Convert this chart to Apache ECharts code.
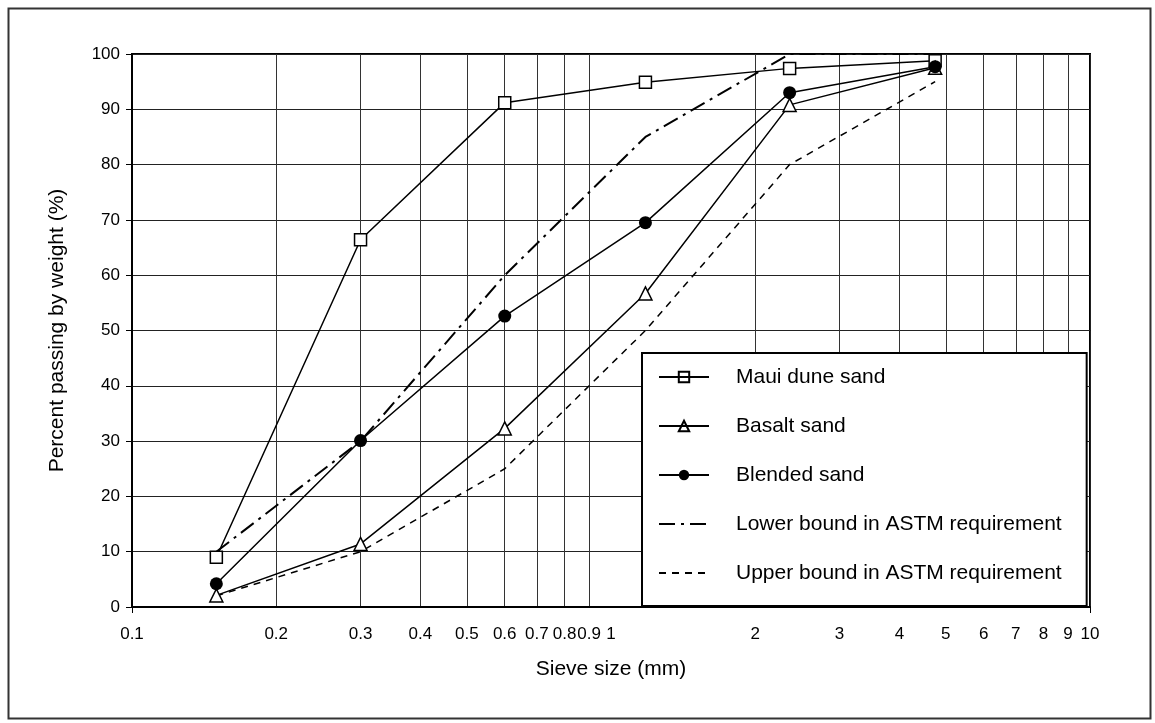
<!DOCTYPE html>
<html>
<head>
<meta charset="utf-8">
<script src="https://cdn.jsdelivr.net/npm/echarts@6/dist/echarts.min.js"></script>
<style>
html,body{margin:0;padding:0;background:#fff;}
#chart{width:1155px;height:723px;}
</style>
</head>
<body>
<div id="chart"></div>
<script>
// ---- data ----
var sieveSizes = [0.15, 0.3, 0.6, 1.18, 2.36, 4.75];
var mauiDune   = [9.0, 66.4, 91.2, 94.9, 97.4, 98.8];
var basalt     = [2.1, 11.4, 32.3, 56.7, 90.8, 97.5];
var blended    = [4.2, 30.1, 52.6, 69.5, 93.0, 97.7];
var lowerBound = [10, 30, 60, 85, 100, 100];
var upperBound = [2, 10, 25, 50, 80, 95];
var seriesNames = ['Maui dune sand', 'Basalt sand', 'Blended sand',
                   'Lower bound in ASTM requirement', 'Upper bound in ASTM requirement'];
var xTickValues = [0.1, 0.2, 0.3, 0.4, 0.5, 0.6, 0.7, 0.8, 0.9, 1, 2, 3, 4, 5, 6, 7, 8, 9, 10];
var xTickLabels = ['0.1','0.2','0.3','0.4','0.5','0.6','0.7','0.8','0.9','1','2','3','4','5','6','7','8','9','10'];
var yTicks = [0, 10, 20, 30, 40, 50, 60, 70, 80, 90, 100];

function pairs(ys) {
  return sieveSizes.map(function (x, i) { return [x, ys[i]]; });
}

var FONT = '"Liberation Sans", Arial, sans-serif';
var chart = echarts.init(document.getElementById('chart'), null, {renderer: 'canvas'});

var option = {
  backgroundColor: '#fff',
  animation: false,
  textStyle: {fontFamily: FONT, color: '#000'},
  graphic: [{
    type: 'rect', left: 6, top: 6, z: -10,
    shape: {width: 1142, height: 710},
    style: {fill: 'none', stroke: '#333', lineWidth: 2}
  }],
  grid: {
    left: 132, right: 65, top: 54, bottom: 116,
    show: true, borderColor: '#000', borderWidth: 2, backgroundColor: 'transparent'
  },
  legend: {
    orient: 'vertical',
    left: 642, top: 353,
    data: [
      {name: seriesNames[0], itemStyle: {color: 'rgba(255,255,255,0)'}},
      {name: seriesNames[1], itemStyle: {color: 'rgba(255,255,255,0)'}},
      {name: seriesNames[2]},
      {name: seriesNames[3], itemStyle: {opacity: 0}},
      {name: seriesNames[4], itemStyle: {opacity: 0}}
    ],
    backgroundColor: '#fff',
    borderColor: '#000',
    borderWidth: 2,
    borderRadius: 0,
    padding: [12, 25, 21, 16],
    itemWidth: 50,
    itemHeight: 13,
    itemGap: 25,
    textStyle: {fontFamily: FONT, fontSize: 21, color: '#000', lineHeight: 24, padding: [0, 0, 0, 22]},
    z: 10
  },
  xAxis: {
    type: 'log',
    logBase: 10,
    min: 0.1,
    max: 10,
    name: 'Sieve size (mm)',
    nameLocation: 'middle',
    nameGap: 52,
    nameTextStyle: {fontFamily: FONT, fontSize: 21, color: '#000'},
    axisLine: {show: true, onZero: false, lineStyle: {color: '#000', width: 2}},
    axisTick: {show: true, inside: false, length: 6, lineStyle: {color: '#000', width: 1}, customValues: [0.1, 10]},
    axisLabel: {
      show: true, margin: 19, fontFamily: FONT, fontSize: 17, color: '#000',
      customValues: xTickValues,
      hideOverlap: false,
      formatter: function (v) {
        for (var i = 0; i < xTickValues.length; i++) {
          if (Math.abs(xTickValues[i] - v) < 1e-9) return xTickLabels[i];
        }
        return '';
      }
    },
    splitLine: {show: true, lineStyle: {color: '#222', width: 1}},
    minorTick: {show: false, splitNumber: 9},
    minorSplitLine: {show: true, lineStyle: {color: '#333', width: 1}}
  },
  yAxis: {
    type: 'value',
    min: 0, max: 100, interval: 10,
    name: 'Percent passing by weight (%)',
    nameLocation: 'middle',
    nameGap: 64,
    nameRotate: 90,
    nameTextStyle: {fontFamily: FONT, fontSize: 21, color: '#000'},
    axisLine: {show: true, lineStyle: {color: '#000', width: 2}},
    axisTick: {show: true, inside: false, length: 6, lineStyle: {color: '#000', width: 1}},
    axisLabel: {margin: 12, fontFamily: FONT, fontSize: 17, color: '#000',
      formatter: function (v) { return yTicks.indexOf(v) >= 0 ? String(v) : ''; }},
    splitLine: {show: true, lineStyle: {color: '#222', width: 1}}
  },
  series: [
    {
      name: seriesNames[0], type: 'line', data: pairs(mauiDune),
      symbol: 'rect', symbolSize: 12,
      lineStyle: {color: '#000', width: 1.5},
      itemStyle: {color: '#fff', borderColor: '#000', borderWidth: 1.5},
      z: 3
    },
    {
      name: seriesNames[1], type: 'line', data: pairs(basalt),
      symbol: 'triangle', symbolSize: 13,
      lineStyle: {color: '#000', width: 1.5},
      itemStyle: {color: '#fff', borderColor: '#000', borderWidth: 1.5},
      z: 3
    },
    {
      name: seriesNames[2], type: 'line', data: pairs(blended),
      symbol: 'circle', symbolSize: 13,
      lineStyle: {color: '#000', width: 1.5},
      itemStyle: {color: '#000', borderColor: '#000', borderWidth: 0},
      z: 4
    },
    {
      name: seriesNames[3], type: 'line', data: pairs(lowerBound),
      symbol: 'none',
      lineStyle: {color: '#000', width: 2, type: [16, 6, 3, 6]},
      itemStyle: {color: '#000'},
      z: 2
    },
    {
      name: seriesNames[4], type: 'line', data: pairs(upperBound),
      symbol: 'none',
      lineStyle: {color: '#000', width: 1.5, type: [7, 6]},
      itemStyle: {color: '#000'},
      z: 2
    }
  ]
};
chart.setOption(option);
</script>
</body>
</html>
